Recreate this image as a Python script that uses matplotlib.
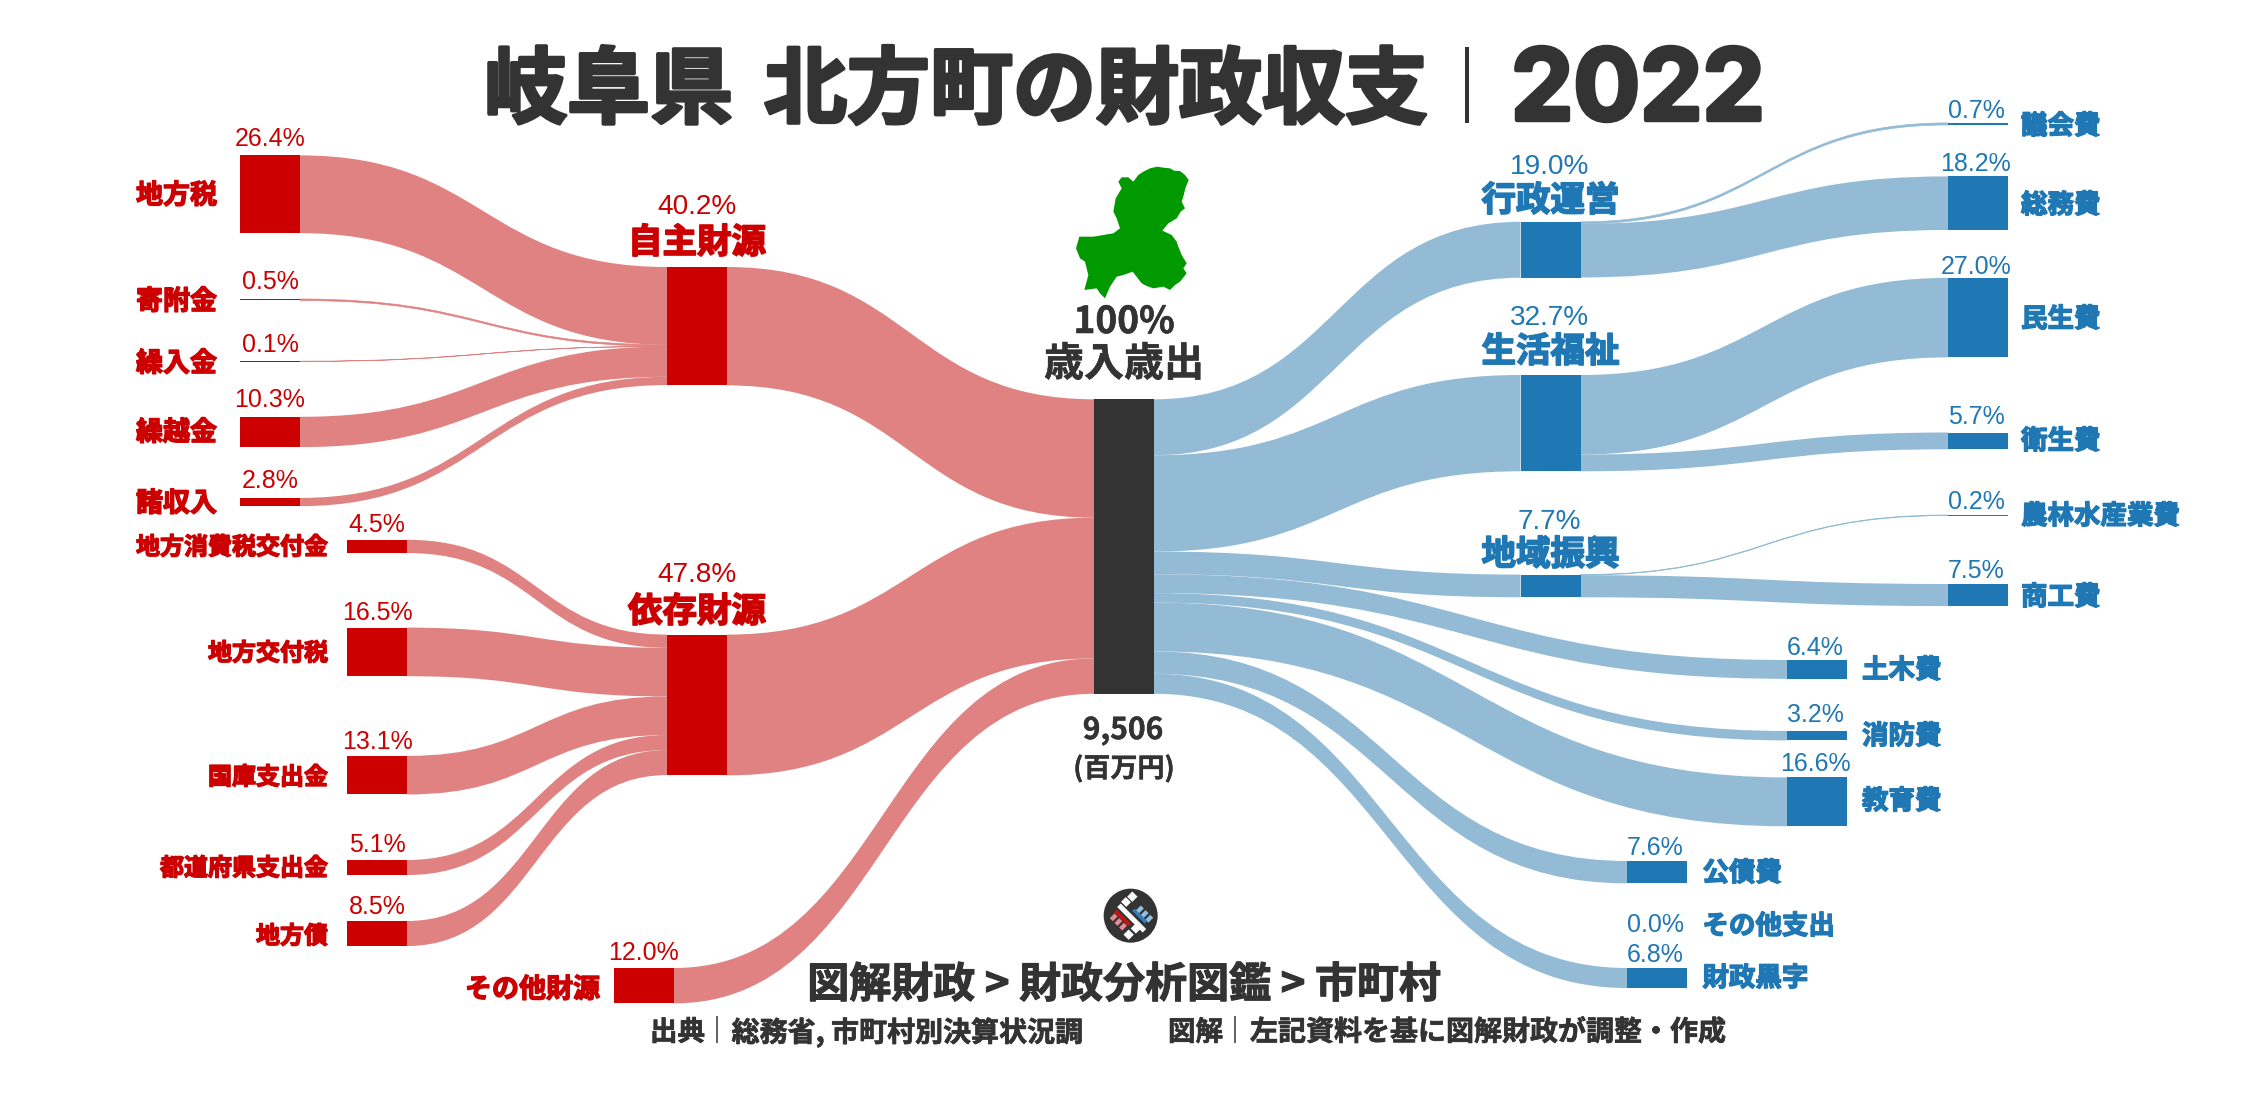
import numpy as np
import matplotlib
matplotlib.use("Agg")
import matplotlib.pyplot as plt
from matplotlib.path import Path
from matplotlib.patches import PathPatch, Polygon, Rectangle, Circle
import matplotlib.patheffects as pe

W, H = 2247, 1096
K = 2.945
RED, RED_L = '#cc0000', '#e08282'
BLUE, BLUE_L = '#1f77b4', '#94bbd6'
DARK = '#333333'
JP = ['Noto Sans CJK JP', 'DejaVu Sans']
LAT = ['Liberation Sans', 'DejaVu Sans']

# ---- data
own_names = ['地方税', '寄附金', '繰入金', '繰越金', '諸収入']
own_values = [26.4, 0.5, 0.1, 10.3, 2.8]
dep_names = ['地方消費税交付金', '地方交付税', '国庫支出金', '都道府県支出金', '地方債']
dep_values = [4.5, 16.5, 13.1, 5.1, 8.5]
mid_names = ['自主財源', '依存財源', 'その他財源']
mid_values = [40.2, 47.8, 12.0]
admin_names = ['議会費', '総務費']
admin_values = [0.7, 18.2]
welfare_names = ['民生費', '衛生費']
welfare_values = [27.0, 5.7]
region_names = ['農林水産業費', '商工費']
region_values = [0.2, 7.5]
group_names = ['行政運営', '生活福祉', '地域振興']
group_values = [19.0, 32.7, 7.7]
other_names = ['土木費', '消防費', '教育費', '公債費', 'その他支出', '財政黒字']
other_values = [6.4, 3.2, 16.6, 7.6, 0.0, 6.8]
total_value = '9,506'

# ---- layout (pixels): node tops, label centres, percent-label baselines
own_top = [155.4, 299, 361.2, 416.8, 497.9]
own_ly = [193, 299, 361, 430, 501]
own_py = [146, 289, 352, 407, 488]
dep_top = [539.8, 627.6, 755.9, 860, 921]
dep_ly = [545, 651, 775, 866, 934]
dep_py = [532, 620, 749, 852, 914]
mid_top = [267, 634.6, 968]
mid_py = [213.6, 582.5, 960]
mid_ly = [240, 609, 987]
admin_top = [122.9, 176.4]
admin_ly = [124, 203]
admin_py = [118, 171]
welfare_top = [277.9, 432.5]
welfare_ly = [317, 439]
welfare_py = [274, 424]
region_top = [515, 584]
region_ly = [514, 595]
region_py = [509, 578]
group_top = [221.8, 375, 574.6]
group_py = [173.6, 325, 528.6]
group_ly = [198, 349, 552]
other_top = [660, 731, 777.4, 861, 924, 968]
other_ly = [668, 734, 799, 871, 924, 976]
other_py = [654.7, 722, 771, 854.7, 932, 961.7]
other_x = [1787, 1787, 1787, 1627.4, 1627.4, 1627.4]
NW = 60
XA, XB, XM, XC, XG, XR = 240, 347, 667, 1094, 1520.5, 1948
MID_OTHER_X = 614
CENTER_TOP = 399.3
DY = 2.5

fig = plt.figure(figsize=(W / 100, H / 100), dpi=100, facecolor='white')
ax = fig.add_axes([0, 0, 1, 1])
ax.set_xlim(0, W)
ax.set_ylim(H, 0)
ax.axis('off')


def px(p):
    return p * 0.72


def link(x0, y0, x1, y1, h, color):
    xm = (x0 + x1) / 2
    verts = [(x0, y0), (xm, y0), (xm, y1), (x1, y1),
             (x1, y1 + h), (xm, y1 + h), (xm, y0 + h), (x0, y0 + h), (x0, y0)]
    codes = [Path.MOVETO, Path.CURVE4, Path.CURVE4, Path.CURVE4, Path.LINETO,
             Path.CURVE4, Path.CURVE4, Path.CURVE4, Path.CLOSEPOLY]
    lw = 0.5 if h < 3 else 0
    ax.add_patch(PathPatch(Path(verts, codes), fc=color, ec=color, lw=lw, zorder=1))


def node(x, y, h, color, w=NW):
    ax.add_patch(Rectangle((x, y), w, max(h, 1.2), fc=color, ec='none', zorder=3))


def heavy(color, w=1.0):
    return [pe.withStroke(linewidth=w, foreground=color)]


def name(x, y, s, color, size, ha='left', stroke=1.0):
    ax.text(x, y + DY, s, family=JP, weight='bold', fontsize=px(size), color=color, ha=ha,
            va='center', zorder=5, path_effects=heavy(color, stroke))


def pct(x, y, v, color, size=25):
    ax.text(x, y, f'{v:.1f}%', family=LAT, fontsize=px(size), color=color, ha='center',
            va='baseline', zorder=5)


# left column 1 -> 自主財源
cur = mid_top[0]
for n, v, t, ly, py in zip(own_names, own_values, own_top, own_ly, own_py):
    h = v * K
    link(XA + NW, t, XM, cur, h, RED_L)
    node(XA, t, h, RED)
    name(217, ly, n, RED, 27, 'right')
    pct(XA + NW / 2, py, v, RED)
    cur += h

# left column 2 -> 依存財源
cur = mid_top[1]
for n, v, t, ly, py in zip(dep_names, dep_values, dep_top, dep_ly, dep_py):
    h = v * K
    link(XB + NW, t, XM, cur, h, RED_L)
    node(XB, t, h, RED)
    name(328, ly, n, RED, 24, 'right')
    pct(XB + NW / 2, py, v, RED)
    cur += h

# mid nodes -> centre
cur = CENTER_TOP
for i, (n, v, t, ly, py) in enumerate(zip(mid_names, mid_values, mid_top, mid_ly, mid_py)):
    h = v * K
    x = XM if i < 2 else MID_OTHER_X
    link(x + NW, t, XC, cur, h, RED_L)
    node(x, t, h, RED)
    if i < 2:
        name(x + NW / 2, ly, n, RED, 34.5, 'center', 1.2)
        pct(x + NW / 2, py, v, RED, 28)
    else:
        name(600, ly, n, RED, 27, 'right')
        pct(x + NW / 2, py, v, RED)
    cur += h
center_h = cur - CENTER_TOP

# centre -> right
cur = CENTER_TOP
for n, v, t, ly, py, leaf_n, leaf_v, leaf_t, leaf_ly, leaf_py in zip(
        group_names, group_values, group_top, group_ly, group_py,
        [admin_names, welfare_names, region_names],
        [admin_values, welfare_values, region_values],
        [admin_top, welfare_top, region_top],
        [admin_ly, welfare_ly, region_ly],
        [admin_py, welfare_py, region_py]):
    h = v * K
    link(XC + NW, cur, XG, t, h, BLUE_L)
    node(XG, t, h, BLUE)
    name(XG + 30, ly, n, BLUE, 34.5, 'center', 1.2)
    pct(XG + 29, py, v, BLUE, 28)
    cur += h
    c2 = t
    for ln, lv, lt, lly, lpy in zip(leaf_n, leaf_v, leaf_t, leaf_ly, leaf_py):
        lh = lv * K
        link(XG + NW, c2, XR, lt, lh, BLUE_L)
        node(XR, lt, lh, BLUE)
        name(XR + 73, lly, ln, BLUE, 26.5)
        pct(XR + 28, lpy, lv, BLUE)
        c2 += lh

for n, v, t, ly, py, x in zip(other_names, other_values, other_top, other_ly, other_py, other_x):
    h = v * K
    if v > 0:
        link(XC + NW, cur, x, t, h, BLUE_L)
        node(x, t, h, BLUE)
    name(x + 75, ly, n, BLUE, 26.5)
    pct(x + 28, py, v, BLUE)
    cur += h

# centre node
ax.add_patch(Rectangle((XC, CENTER_TOP), NW, center_h, fc=DARK, ec='none', zorder=3))
name(1124, 320, '100%', DARK, 37, 'center', 0.4)
name(1124, 362, '歳入歳出', DARK, 40, 'center', 0.4)
name(1123, 728, total_value, DARK, 30, 'center', 0.3)
name(1124, 766, '(百万円)', DARK, 27, 'center', 0.3)

# Gifu prefecture silhouette (decoration, zoom-read outline)
gifu = [(622, 80), (640, 83), (660, 85), (672, 92), (690, 93), (705, 105), (716, 120), (706, 145), (700, 170),
        (695, 185), (705, 205), (692, 215), (680, 235), (655, 250), (637, 272), (665, 285), (680, 305), (685, 320),
        (695, 345), (710, 370), (700, 385), (710, 400), (690, 425), (675, 435), (660, 450), (640, 440), (610, 445),
        (590, 438), (575, 430), (548, 395), (520, 405), (500, 410), (480, 440), (465, 475), (450, 460), (440, 445),
        (403, 450), (415, 405), (405, 365), (390, 355), (378, 325), (388, 290), (430, 290), (490, 280), (510, 265),
        (500, 235), (490, 215), (497, 175), (515, 145), (505, 125), (515, 112), (535, 112), (550, 125), (565, 105),
        (580, 95), (600, 85)]
ax.add_patch(Polygon([(950 + a / 3, 140 + b / 3) for a, b in gifu], fc='#009900', ec='none', zorder=4))

# title
tc = DARK
ax.text(484, 92, '岐阜県', family=JP, weight='bold', fontsize=px(83), color=tc, ha='left', va='center',
        path_effects=heavy(tc, 2.5))
ax.text(764, 92, '北方町の財政収支', family=JP, weight='bold', fontsize=px(83), color=tc, ha='left', va='center',
        path_effects=heavy(tc, 2.5))
ax.plot([1467, 1467], [47, 122.7], color=tc, lw=px(4), solid_capstyle='butt')
ax.text(1511, 120, '2022', family=['Inter', 'Liberation Sans'], weight='bold', fontsize=px(99), color=tc,
        ha='left', va='baseline', path_effects=heavy(tc, 3.2))

# footer
name(1124, 983, '図解財政 > 財政分析図鑑 > 市町村', DARK, 42, 'center', 0.8)
name(650, 1030, '出典', DARK, 27.5, 'left', 0.5)
name(731.6, 1030, '総務省, 市町村別決算状況調', DARK, 28, 'left', 0.5)
name(1168, 1030, '図解', DARK, 27.5, 'left', 0.5)
name(1250, 1030, '左記資料を基に図解財政が調整・作成', DARK, 28, 'left', 0.5)
for x in (717, 1235):
    ax.plot([x, x], [1016, 1043], color=DARK, lw=px(1.5), solid_capstyle='butt')

# logo
LX, LY = 1090, 880


def zr(cx, cy, length, width, color, angle=45):
    a = np.deg2rad(angle)
    u = np.array([np.cos(a), np.sin(a)])
    v = np.array([-np.sin(a), np.cos(a)])
    c = np.array([cx, cy])
    pts = [c + s * length / 2 * u + t * width / 2 * v for s, t in [(-1, -1), (1, -1), (1, 1), (-1, 1)]]
    ax.add_patch(Polygon([(LX + p[0] / 3, LY + p[1] / 3) for p in pts], fc=color, ec='none', zorder=5))


ax.add_patch(Circle((LX + 122 / 3, LY + 107 / 3), 27, fc=DARK, ec='none', zorder=4))
zr(125, 114, 108, 15, 'white')
zr(98, 114, 60, 11, '#cc1111')
zr(149, 108, 54, 10, '#2f7fc0')
for cx, cy in [(71, 112), (85, 126), (99, 140)]:
    zr(cx, cy, 13, 20, '#e58a95')
for cx, cy in [(150, 88), (164, 102), (178, 116)]:
    zr(cx, cy, 13, 20, '#8fc0e0')
# upper and lower white blocks crossing the central band
zr(108, 66, 20, 22, 'white', -45)
zr(127, 50, 22, 22, 'white', -45)
zr(116, 164, 22, 22, 'white', -45)
zr(137, 146, 20, 22, 'white', -45)

fig.savefig('out.png', dpi=100, facecolor='white')
